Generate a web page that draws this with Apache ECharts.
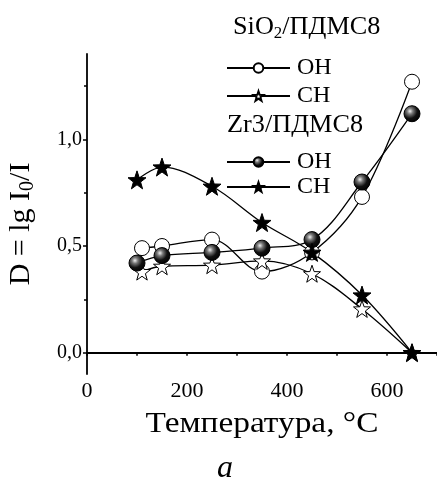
<!DOCTYPE html>
<html>
<head>
<meta charset="utf-8">
<script src="https://cdn.jsdelivr.net/npm/echarts@6/dist/echarts.min.js"></script>
<style>
  html, body { margin: 0; padding: 0; background: #fff; }
  #chart { width: 437px; height: 481px; }
</style>
</head>
<body>
<div id="chart"></div>
<script>
// Температура, °C
const tempSiO2 = [110, 150, 250, 350, 450, 550, 650]
const tempZr3 = [100, 150, 250, 350, 450, 550, 650]

// D = lg I0/I
const sio2OH = [0.49, 0.50, 0.53, 0.38, 0.47, 0.73, 1.27]
const sio2CH = [0.38, 0.405, 0.41, 0.43, 0.37, 0.205, 0.0]
const zr3OH = [0.42, 0.455, 0.47, 0.49, 0.53, 0.80, 1.12]
const zr3CH = [0.81, 0.87, 0.78, 0.61, 0.47, 0.27, 0.0]

const yMajor = [0, 0.5, 1.0]
const yMinor = [0.25, 0.75, 1.25]

const font = '"Liberation Serif", "DejaVu Serif", serif'
const star = 'path://M0,-10L2.35,-3.24L9.51,-3.09L3.8,1.24L5.88,8.09L0,4L-5.88,8.09L-3.8,1.24L-9.51,-3.09L-2.35,-3.24Z'

const ball = {
  type: 'radial', x: 0.38, y: 0.35, r: 0.7,
  colorStops: [
    { offset: 0, color: '#f0f0f0' },
    { offset: 0.25, color: '#777' },
    { offset: 0.6, color: '#111' },
    { offset: 1, color: '#000' }
  ]
}

function pairs(xs, ys) {
  return xs.map((x, i) => [x, ys[i]])
}

function serie(name, xs, ys, symbol, size, fill) {
  return {
    name: name,
    type: 'line',
    data: pairs(xs, ys),
    smooth: 0.35,
    symbol: symbol,
    symbolSize: size,
    showAllSymbol: true,
    lineStyle: { color: '#000', width: 1.3 },
    itemStyle: { color: fill, borderColor: '#000', borderWidth: 1 }
  }
}

const chart = echarts.init(document.getElementById('chart'))

const legendBase = {
  orient: 'vertical',
  itemWidth: 63,
  itemHeight: 12,
  padding: 0,
  formatter: n => n.split(' ')[1],
  textStyle: { fontFamily: font, fontSize: 24, color: '#000', lineHeight: 24, padding: [0, 0, 0, 2] },
  selectedMode: false
}

chart.setOption({
  animation: false,
  backgroundColor: '#fff',
  grid: { left: 87, right: 0, top: 54, bottom: 107 },
  legend: [
    Object.assign({}, legendBase, { left: 226, top: 56, itemGap: 4, data: ['SiO2 OH', 'SiO2 CH'] }),
    Object.assign({}, legendBase, { left: 226, top: 150, itemGap: 1, data: ['Zr3 OH', 'Zr3 CH'] })
  ],
  xAxis: {
    type: 'value',
    min: 0,
    max: 700,
    interval: 200,
    axisLine: { lineStyle: { color: '#000', width: 1.8 } },
    axisTick: { length: 3, lineStyle: { color: '#000', width: 1.5 } },
    minorTick: { show: true, splitNumber: 2, length: 3, lineStyle: { color: '#000', width: 1.5 } },
    axisLabel: { fontFamily: font, fontSize: 22, color: '#000', margin: 6, showMaxLabel: false },
    splitLine: { show: false }
  },
  yAxis: [
    {
      type: 'value',
      min: -0.1,
      max: 1.4,
      axisLine: { show: true, lineStyle: { color: '#000', width: 1.8 } },
      axisTick: { length: 4, customValues: yMajor, lineStyle: { color: '#000', width: 1.5 } },
      axisLabel: {
        customValues: yMajor,
        fontFamily: font, fontSize: 20, color: '#000', margin: 5,
        formatter: v => v.toFixed(1).replace('.', ',')
      },
      splitLine: { show: false }
    },
    {
      type: 'value',
      min: -0.1,
      max: 1.4,
      position: 'left',
      axisLine: { show: false },
      axisTick: { length: 3, customValues: yMinor, lineStyle: { color: '#000', width: 1.5 } },
      axisLabel: { show: false },
      splitLine: { show: false }
    }
  ],
  series: [
    serie('SiO2 OH', tempSiO2, sio2OH, 'circle', 15, '#fff'),
    serie('SiO2 CH', tempSiO2, sio2CH, star, 17, '#fff'),
    serie('Zr3 OH', tempZr3, zr3OH, 'circle', 16, ball),
    serie('Zr3 CH', tempZr3, zr3CH, star, 18, '#000')
  ],
  graphic: [
    {
      type: 'text', x: 233, y: 27, scaleX: 1.05,
      style: {
        text: '{a|SiO}{s|2}{a|/ПДМС8}',
        verticalAlign: 'middle',
        rich: {
          a: { fontFamily: font, fontSize: 25, fill: '#000' },
          s: { fontFamily: font, fontSize: 16, fill: '#000', padding: [14, 0, 0, 0] }
        }
      }
    },
    {
      type: 'text', x: 227, y: 125, scaleX: 1.05,
      style: { text: 'Zr3/ПДМС8', fontFamily: font, fontSize: 25, fill: '#000', verticalAlign: 'middle' }
    },
    {
      type: 'text', x: 21, y: 224, rotation: Math.PI / 2,
      style: {
        text: '{a|D = lg I}{s|0}{a|/I}',
        align: 'center', verticalAlign: 'middle',
        rich: {
          a: { fontFamily: font, fontSize: 30, fill: '#000' },
          s: { fontFamily: font, fontSize: 20, fill: '#000', padding: [14, 0, 0, 0] }
        }
      }
    },
    {
      type: 'text', x: 262, y: 424, scaleX: 1.15,
      style: {
        text: 'Температура, °C', fontFamily: font, fontSize: 29, fill: '#000',
        align: 'center', verticalAlign: 'middle'
      }
    },
    {
      type: 'text', x: 225, y: 469,
      style: {
        text: 'a', fontFamily: font, fontSize: 32, fontStyle: 'italic', fill: '#000',
        align: 'center', verticalAlign: 'middle'
      }
    }
  ]
})
</script>
</body>
</html>
